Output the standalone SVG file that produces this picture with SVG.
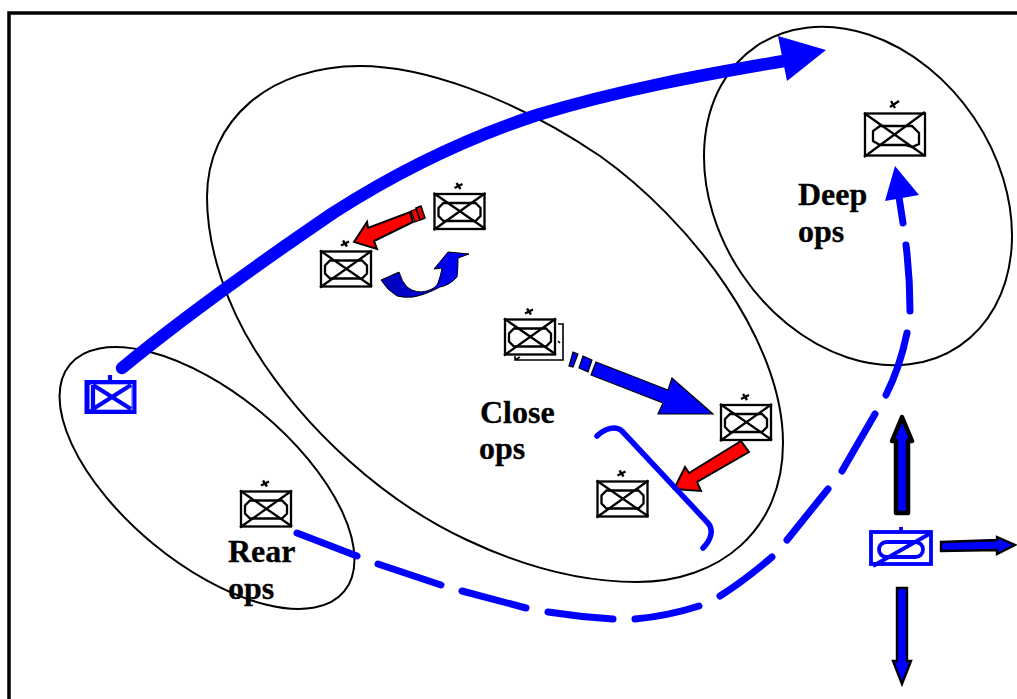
<svg xmlns="http://www.w3.org/2000/svg" width="1017" height="699" viewBox="0 0 1017 699">
<style>
.zone{fill:none;stroke:#000;stroke-width:2}
.lbl{font-family:"Liberation Serif","Times New Roman",serif;font-weight:bold;font-size:32px;fill:#000;stroke:#000;stroke-width:.3}
.u{fill:none;stroke:#000;stroke-width:2.300}
.b{fill:none;stroke:#00f}
.ba{fill:#00f;stroke:#000;stroke-width:2.400}
.red{fill:#f00;stroke:#000;stroke-width:2}
.blu{fill:#00f}
.dash{fill:none;stroke:#00f;stroke-width:7;stroke-linecap:round}
</style>
<defs>
<linearGradient id="turn" x1="0" x2="1" y1="0" y2="0">
<stop offset="0" stop-color="#0000b8"/>
<stop offset="1" stop-color="#0000ff"/>
</linearGradient>
<g id="unit">
<rect class="u" x="0" y="0" width="50" height="35"/>
<path class="u" d="M-1 36L51 -1M-1 -1L51 35"/>
<path class="u" d="M9 9H41L46 14V22L41 27H9L4 22V14Z"/>
<path class="u" d="M20 -6L28 -10M22 -11L26 -5"/>
</g>
</defs>
<rect width="1017" height="699" fill="#fff"/>
<path d="M9 699V13H1017" fill="none" stroke="#000" stroke-width="3.500"/>
<g id="zones">
<path class="zone" d="M207 197C207 120 270 66 360 66C420 66 510 95 600 156C690 220 783 340 783 443C783 530 720 582 637 582C580 582 520 565 467 540C385 502 305 430 255 350C228 307 207 250 207 197Z"/>
<ellipse class="zone" cx="858" cy="196" rx="181" ry="140" transform="rotate(56 858 196)"/>
<ellipse class="zone" cx="207" cy="478" rx="178" ry="85" transform="rotate(39.600 207 478)"/>
</g>
<g id="labels">
<text class="lbl" x="480" y="423">Close</text>
<text class="lbl" x="479" y="459">ops</text>
<text class="lbl" x="798" y="205">Deep</text>
<text class="lbl" x="798" y="242">ops</text>
<text class="lbl" x="228" y="562">Rear</text>
<text class="lbl" x="228" y="599">ops</text>
</g>
<g id="n-brigade-1"><use href="#unit" x="434.500" y="194"/></g>
<g id="n-brigade-2"><use href="#unit" x="321" y="251.500"/></g>
<g id="n-brigade-3">
<use href="#unit" x="505" y="319.500"/>
<path class="u" style="stroke-width:1.600" d="M558 324H563V360H515V356M515 360L520 357M558 341L560 343"/>
</g>
<g id="n-brigade-4"><use href="#unit" x="721" y="405"/></g>
<g id="n-brigade-5"><use href="#unit" x="597.500" y="481.500"/></g>
<g id="n-brigade-6"><use href="#unit" x="241" y="491.500"/></g>
<g id="n-brigade-7">
<rect class="u" x="865" y="113.500" width="60" height="42"/>
<path class="u" d="M864 157L925 112M864 113L925 156"/>
<path class="u" d="M880 126H912L919 133V144L912 147L905 145H880L873 141V131Z"/>
<path class="u" d="M890 107L899 101M891 101L895 108"/>
</g>
<g id="n-blue-hq">
<rect class="b" style="stroke-width:5" x="87" y="382.500" width="47" height="29"/>
<rect fill="none" stroke="#d8d8ff" stroke-width=".8" x="91" y="384.500" width="41" height="25"/>
<path class="b" style="stroke-width:4.200" d="M93 385V410M93 385L131 409M131 385L93 409M110 375V382"/>
</g>
<g id="n-blue-recon">
<rect class="b" style="stroke-width:3.800" x="871" y="532" width="60" height="32"/>
<rect class="b" style="stroke-width:3.800" x="879" y="542" width="44" height="15" rx="7.500"/>
<path class="b" style="stroke-width:3.800" d="M873 566L931 533M901 527V532"/>
</g>
<g id="connectors">
<path d="M122 368C180 320 267 258 333 213C400 170 467 138 537 115C620 90 700 75 790 60" fill="none" stroke="#00f" stroke-width="12.500" stroke-linecap="round"/>
<path class="blu" d="M778 36L826 50L787 81Z"/>
<path class="dash" d="M297 533L357 556M378 564L441 585M462 591L526 608M548 612Q580 617 613 619M635 619Q668 616 699 606M720 596Q745 580 772 557M787 540L828 489M842 471L875 414M886 395Q900 367 907 333M910 311Q910 277 906 245M903 223L899 197"/>
<path class="blu" d="M895 166L919 195L885 201Z"/>
<path class="red" d="M354 242L367 222L368 228L410 212L413 222L374 241L377 249Z"/>
<path class="red" style="stroke-width:1.300" d="M411 211L416 209L420 220L415 222Z"/>
<path d="M416 208L421 206L425 218L420 220Z" fill="#d00" stroke="#000" stroke-width="1.500"/>
<path d="M381 280L399 272Q402 282 407 287Q416 294 427 291Q436 288 438 283Q441 275 442 268L434 269L448 252L469 254L458 258Q458 270 457 277Q450 285 440 287Q425 295 413 297Q404 298 397 296Q387 290 381 280Z" fill="url(#turn)" stroke="#000" stroke-width="1"/>
<path class="blu" stroke="#000" stroke-width="1.200" d="M573 352L578 354L573 367L569 366ZM583 356L592 360L588 372L579 368ZM596 362L668 390L672 378L713 414L658 414L663 403L591 375Z"/>
<path class="red" d="M741 441L749 452L697 482L701 491L674 489L685 467L689 473Z"/>
<path class="b" style="stroke-width:5.500;stroke-linecap:round" d="M597 436C604 429 615 425 622 431L708 523C714 530 711 540 703 548"/>
<path class="ba" style="stroke-width:4.500;stroke-linejoin:round" d="M902 417L912 441H908V513H896V441H892Z"/>
<path class="ba" d="M941 542L997 540V537L1015 545L997 554V550L941 551Z"/>
<path class="ba" d="M897 588H907V661H911L902 684L893 661H897Z"/>
</g>
</svg>
